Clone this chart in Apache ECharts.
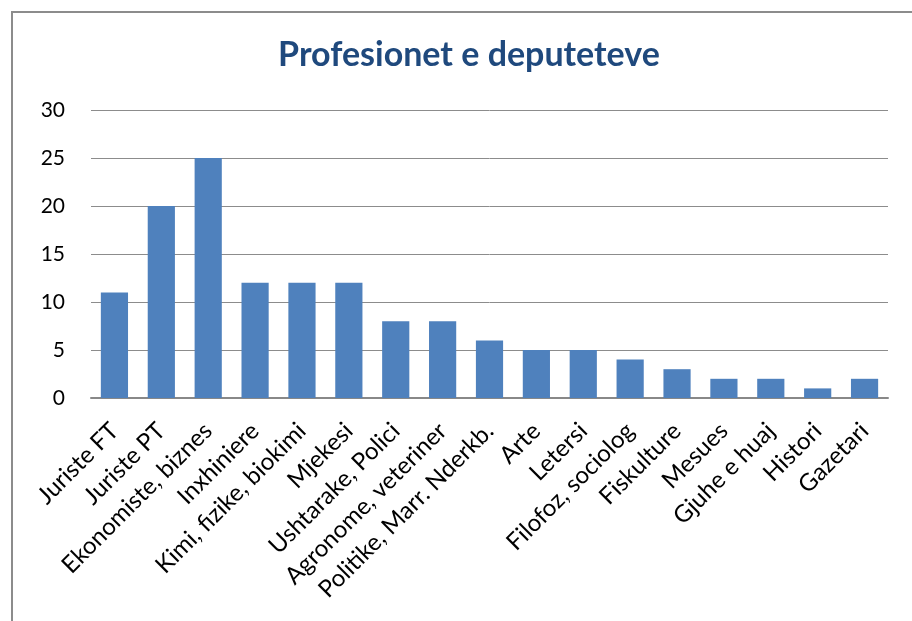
<!DOCTYPE html>
<html>
<head>
<meta charset="utf-8">
<script src="https://cdn.jsdelivr.net/npm/echarts@6/dist/echarts.min.js"></script>
<style>
    html, body { margin: 0; padding: 0; background: #fff; overflow: hidden; }
    #frame {
        position: absolute; left: 11px; top: 11px;
        width: 1000px; height: 700px;
        border-left: 2px solid #8c8c8c; border-top: 2px solid #8c8c8c;
    }
    #myChart { position: absolute; left: 0; top: 0; width: 912px; height: 621px; }
</style>
</head>
<body>
<div id="frame"></div>
<div id="myChart"></div>
<script>
    // categories and values
    const categories = ['Juriste FT', 'Juriste PT', 'Ekonomiste, biznes', 'Inxhiniere', 'Kimi, fizike, biokimi',
        'Mjekesi', 'Ushtarake, Polici', 'Agronome, veteriner', 'Politike, Marr. Nderkb.', 'Arte', 'Letersi',
        'Filofoz, sociolog', 'Fiskulture', 'Mesues', 'Gjuhe e huaj', 'Histori', 'Gazetari'];
    const values = [11, 20, 25, 12, 12, 12, 8, 8, 6, 5, 5, 4, 3, 2, 2, 1, 2];
    const yTicks = [0, 5, 10, 15, 20, 25, 30];

    const font = 'Lato, "Open Sans", sans-serif';
    let myChart = echarts.init(document.getElementById('myChart'));
    myChart.setOption({
        animation: false,
        backgroundColor: 'transparent',
        title: {
            text: 'Profesionet e deputeteve',
            left: 464, top: 33, textAlign: 'center',
            textStyle: { color: '#1f497d', fontSize: 34, fontWeight: 'bold', fontFamily: font }
        },
        grid: { left: 91, right: 24, top: 110, bottom: 223 },
        xAxis: {
            type: 'category',
            data: categories,
            axisTick: { show: false },
            axisLine: { lineStyle: { color: '#888', width: 2 } },
            axisLabel: {
                interval: 0, rotate: 45, margin: 29,
                color: '#000', fontSize: 24, fontFamily: font
            }
        },
        yAxis: {
            type: 'value',
            min: yTicks[0], max: yTicks[yTicks.length - 1], interval: 5,
            axisLine: { show: false },
            axisTick: { show: false },
            splitLine: { lineStyle: { color: '#8c8c8c', width: 1 } },
            axisLabel: { color: '#000', fontSize: 21, fontFamily: font, margin: 26 }
        },
        series: [{
            type: 'bar',
            data: values,
            barCategoryGap: '42%',
            itemStyle: { color: '#4f81bd' }
        }]
    });
</script>
</body>
</html>
